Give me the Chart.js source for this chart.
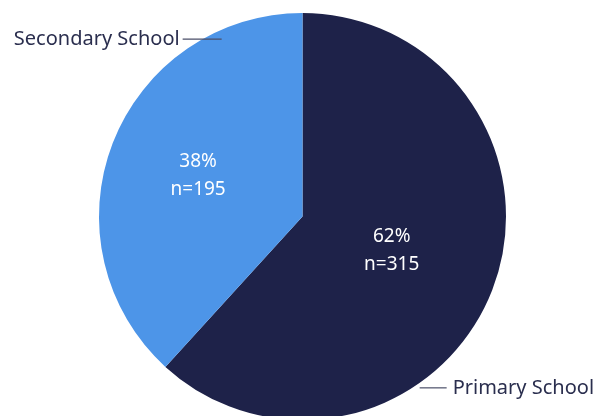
<!DOCTYPE html>
<html>
<head>
<meta charset="utf-8">
<script src="https://cdn.jsdelivr.net/npm/chart.js@4/dist/chart.umd.min.js"></script>
<style>
html,body{margin:0;padding:0;background:#fff;overflow:hidden;}
#wrap{width:595px;height:416px;position:relative;overflow:hidden;}
</style>
</head>
<body>
<div id="wrap"><canvas id="c" width="595" height="424"></canvas></div>
<script>
const categories = ["Primary School", "Secondary School"];
const counts = [315, 195];
const percents = [62, 38];
const colors = ["#1e2249", "#4d95e8"];

const textColor = "#2a2e4e";
const fontFamily = "'Noto Sans', 'Open Sans', sans-serif";

// annotation placement per slice
const innerRadiusFrac = [0.47, 0.55];
const leaderFrac = [0.655, 0.822];
const leaderRadiusFrac = [1.02, 0.958];
const leaderLen = [27, 39];
const leaderGap = [6, 3];

const labelPlugin = {
  id: 'labels',
  afterDatasetsDraw(chart) {
    const ctx = chart.ctx;
    const meta = chart.getDatasetMeta(0);
    meta.data.forEach((arc, i) => {
      const {x, y, startAngle, endAngle, outerRadius} = arc.getProps(['x','y','startAngle','endAngle','outerRadius'], true);
      const mid = (startAngle + endAngle) / 2;
      const r = outerRadius * innerRadiusFrac[i];
      const lx = x + Math.cos(mid) * r;
      const ly = y + Math.sin(mid) * r;
      ctx.save();
      ctx.fillStyle = '#ffffff';
      ctx.font = "19px " + fontFamily;
      ctx.textAlign = 'center';
      ctx.textBaseline = 'middle';
      ctx.fillText(percents[i] + '%', lx, ly - 14);
      ctx.fillText('n=' + counts[i], lx, ly + 14);
      // leader
      const a = startAngle + (endAngle - startAngle) * leaderFrac[i];
      const ax = x + Math.cos(a) * outerRadius * leaderRadiusFrac[i];
      const ay = y + Math.sin(a) * outerRadius * leaderRadiusFrac[i];
      const right = Math.cos(a) > 0;
      const ex = right ? ax + leaderLen[i] : ax - leaderLen[i];
      ctx.strokeStyle = '#4a4e68';
      ctx.lineWidth = 1.2;
      ctx.beginPath();
      ctx.moveTo(ax, ay);
      ctx.lineTo(ex, ay);
      ctx.stroke();
      ctx.fillStyle = textColor;
      ctx.font = "20px " + fontFamily;
      ctx.textAlign = right ? 'left' : 'right';
      ctx.fillText(categories[i], right ? ex + leaderGap[i] : ex - leaderGap[i], ay);
      ctx.restore();
    });
  }
};

new Chart(document.getElementById('c'), {
  type: 'pie',
  data: {
    labels: categories,
    datasets: [{
      data: counts,
      backgroundColor: colors,
      borderWidth: 0,
      hoverOffset: 0,
      offset: 0
    }]
  },
  options: {
    responsive: false,
    animation: false,
    layout: { padding: { left: 99, right: 89, top: 13, bottom: 4 } },
    plugins: { legend: { display: false }, tooltip: { enabled: false } }
  },
  plugins: [labelPlugin]
});
</script>
</body>
</html>
